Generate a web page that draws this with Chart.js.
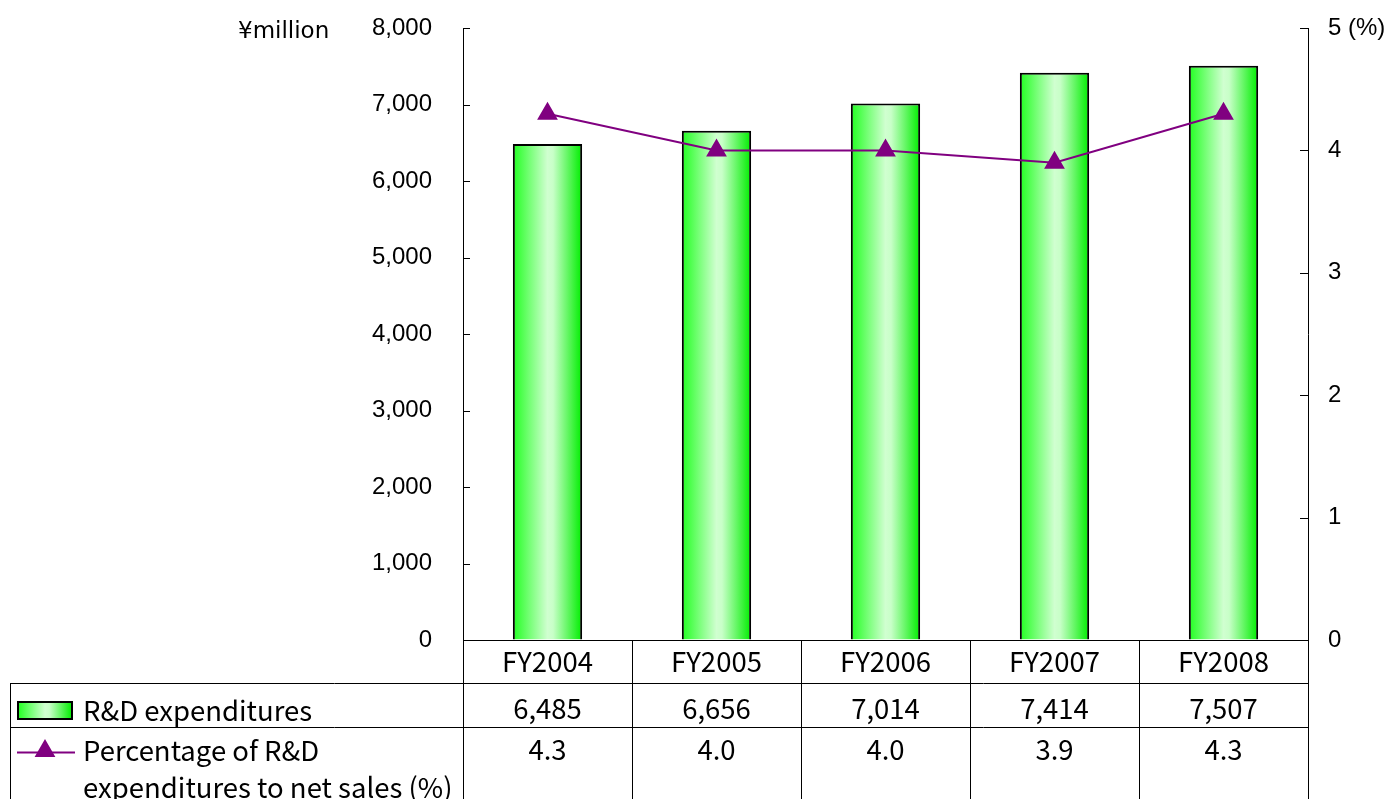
<!DOCTYPE html>
<html lang="en">
<head>
    <meta charset="UTF-8">
    <title>R&amp;D expenditures</title>
    <script src="https://cdn.jsdelivr.net/npm/chart.js"></script>
    <style>
        html, body {
            margin: 0;
            padding: 0;
            background: #fff;
        }
        canvas {
            display: block;
        }
    </style>
</head>
<body>
    <canvas id="rdChart" width="1397" height="799"></canvas>

    <script>
        const years = ['FY2004', 'FY2005', 'FY2006', 'FY2007', 'FY2008'];
        const rdExpenditures = [6485, 6656, 7014, 7414, 7507];
        const rdRatio = [4.3, 4.0, 4.0, 3.9, 4.3];
        const barLabel = 'R&D expenditures';
        const lineLabel = ['Percentage of R&D', 'expenditures to net sales (%)'];
        const unitLabel = '¥million';

        const AXIS_FONT = '"Liberation Sans", Arial, sans-serif';
        const UNIT_FONT = '"DejaVu Sans", sans-serif';
        const TABLE_FONT = '"Noto Sans CJK JP", "Noto Sans", sans-serif';
        const PURPLE = '#800080';
        const BAR_PCT = 0.41;

        function fmt(n) {
            return n.toLocaleString('en-US');
        }

        function barGradient(ctx, x0, x1) {
            const g = ctx.createLinearGradient(x0, 0, x1, 0);
            g.addColorStop(0, '#22ff22');
            g.addColorStop(0.5, '#d0ffd0');
            g.addColorStop(0.58, '#c8ffc8');
            g.addColorStop(1, '#00ee00');
            return g;
        }

        // keep the y axes from reserving extra room above and below the plot
        function fitVertical(width) {
            return (scale) => {
                scale.width = width;
                scale.paddingTop = 0;
                scale.paddingBottom = 0;
            };
        }

        // inward tick marks, unit label and the data table under the plot
        const tablePlugin = {
            id: 'tablePlugin',
            afterDraw(chart) {
                const ctx = chart.ctx;
                const xs = chart.scales.x;
                const yl = chart.scales.y;
                const yr = chart.scales.y1;
                const area = chart.chartArea;
                const step = (area.right - area.left) / years.length;

                ctx.save();
                ctx.strokeStyle = '#000';
                ctx.lineWidth = 1;

                // tick marks pointing into the plot
                ctx.beginPath();
                yl.ticks.forEach(t => {
                    const y = Math.round(yl.getPixelForValue(t.value)) + 0.5;
                    ctx.moveTo(area.left, y);
                    ctx.lineTo(area.left + 7, y);
                });
                yr.ticks.forEach(t => {
                    const y = Math.round(yr.getPixelForValue(t.value)) + 0.5;
                    ctx.moveTo(area.right - 8, y);
                    ctx.lineTo(area.right, y);
                });
                ctx.stroke();

                // table grid
                const top = area.bottom;
                const row1 = 683.5, row2 = 727.5, bottom = chart.height;
                ctx.beginPath();
                for (let i = 0; i <= years.length; i++) {
                    const x = Math.round(area.left + i * step) + 0.5;
                    ctx.moveTo(x, top);
                    ctx.lineTo(x, bottom);
                }
                ctx.moveTo(10.5, row1);
                ctx.lineTo(10.5, bottom);
                ctx.moveTo(10, row1);
                ctx.lineTo(area.right, row1);
                ctx.moveTo(10, row2);
                ctx.lineTo(area.right, row2);
                ctx.stroke();

                // table text
                ctx.fillStyle = '#000';
                ctx.textBaseline = 'middle';
                ctx.textAlign = 'center';
                ctx.font = '27.5px ' + TABLE_FONT;
                years.forEach((yr_, i) => {
                    const cx = xs.getPixelForValue(i);
                    ctx.fillText(yr_, cx, 662);
                    ctx.fillText(fmt(rdExpenditures[i]), cx, 709);
                    ctx.fillText(rdRatio[i].toFixed(1), cx, 750);
                });

                // legend cells
                ctx.textAlign = 'left';
                ctx.fillText(barLabel, 83, 711);
                ctx.fillText(lineLabel[0], 83, 751);
                ctx.fillText(lineLabel[1], 83, 788);

                ctx.fillStyle = barGradient(ctx, 18, 72);
                ctx.fillRect(18, 702, 54, 17);
                ctx.lineWidth = 2;
                ctx.strokeRect(18, 702, 54, 17);

                ctx.strokeStyle = PURPLE;
                ctx.fillStyle = PURPLE;
                ctx.beginPath();
                ctx.moveTo(17, 752.5);
                ctx.lineTo(75, 752.5);
                ctx.stroke();
                Chart.helpers.drawPoint(ctx, {pointStyle: 'triangle', radius: 10, rotation: 0, borderWidth: 1}, 45, 751);

                // unit label of the left axis
                ctx.fillStyle = '#000';
                ctx.font = '23px ' + UNIT_FONT;
                ctx.textAlign = 'left';
                ctx.fillText(unitLabel, 238, 32);
                ctx.restore();
            }
        };

        const chart = new Chart(document.getElementById('rdChart'), {
            type: 'bar',
            data: {
                labels: years,
                datasets: [
                    {
                        type: 'line',
                        label: lineLabel.join(' '),
                        data: rdRatio,
                        yAxisID: 'y1',
                        borderColor: PURPLE,
                        borderWidth: 2,
                        pointStyle: 'triangle',
                        pointRadius: 10,
                        pointBackgroundColor: PURPLE,
                        pointBorderColor: PURPLE,
                        tension: 0,
                        order: 0
                    },
                    {
                        type: 'bar',
                        label: barLabel,
                        data: rdExpenditures,
                        yAxisID: 'y',
                        backgroundColor: (c) => {
                            const ch = c.chart;
                            const xs = ch.scales.x;
                            if (!ch.chartArea || !xs) return '#66ff66';
                            const cx = xs.getPixelForValue(c.dataIndex);
                            const w = (ch.chartArea.right - ch.chartArea.left) / years.length * BAR_PCT;
                            return barGradient(ch.ctx, cx - w / 2, cx + w / 2);
                        },
                        borderColor: '#000',
                        borderWidth: 2,
                        barPercentage: BAR_PCT,
                        categoryPercentage: 1,
                        order: 1
                    }
                ]
            },
            options: {
                responsive: false,
                devicePixelRatio: 1,
                animation: false,
                layout: {
                    padding: { top: 28, left: 0, right: 0, bottom: 0 }
                },
                plugins: {
                    legend: { display: false },
                    tooltip: { enabled: false }
                },
                scales: {
                    x: {
                        position: 'bottom',
                        grid: { display: false, drawTicks: false },
                        border: { display: true, color: '#000', width: 1 },
                        ticks: { display: false },
                        afterFit(scale) { scale.height = 159; }
                    },
                    y: {
                        position: 'left',
                        min: 0,
                        max: 8000,
                        grid: { drawOnChartArea: false, drawTicks: false },
                        border: { display: true, color: '#000', width: 1 },
                        ticks: {
                            stepSize: 1000,
                            padding: 31,
                            color: '#000',
                            font: { family: AXIS_FONT, size: 24 },
                            callback: (v) => fmt(v)
                        },
                        afterFit: fitVertical(463)
                    },
                    y1: {
                        position: 'right',
                        min: 0,
                        max: 5,
                        grid: { drawOnChartArea: false, drawTicks: false },
                        border: { display: true, color: '#000', width: 1 },
                        ticks: {
                            stepSize: 1,
                            padding: 20,
                            color: '#000',
                            font: { family: AXIS_FONT, size: 24 },
                            callback: (v) => v === 5 ? '5 (%)' : String(v)
                        },
                        afterFit: fitVertical(89)
                    }
                }
            },
            plugins: [tablePlugin]
        });
    </script>
</body>
</html>
